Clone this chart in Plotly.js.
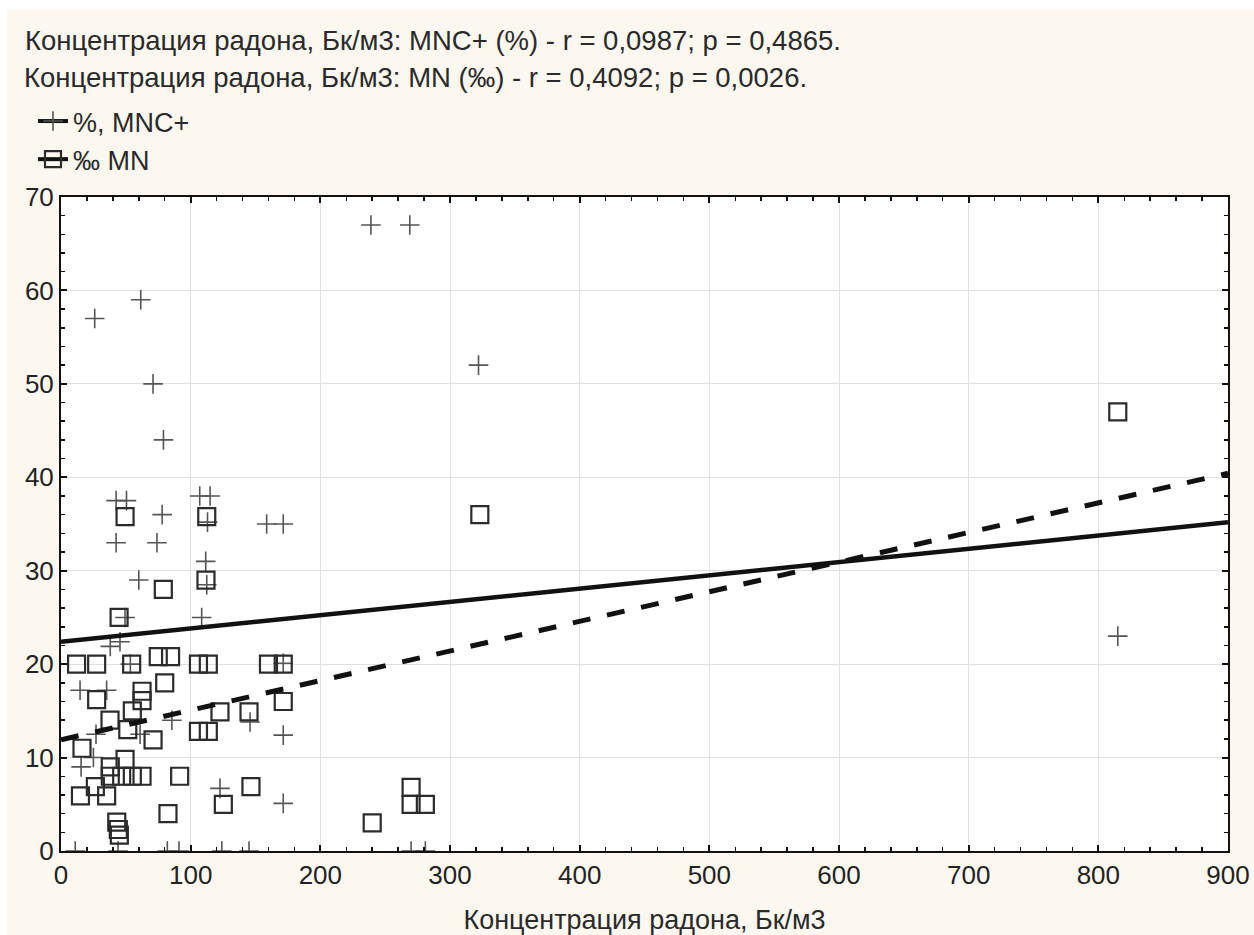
<!DOCTYPE html>
<html>
<head>
<meta charset="utf-8">
<script src="https://cdn.plot.ly/plotly-3.0.1.min.js"></script>
<style>
  html, body { margin: 0; padding: 0; background: #ffffff; }
  #chart { position: absolute; left: 7px; top: 10px; width: 1247px; height: 925px; }
</style>
</head>
<body>
<div id="chart"></div>
<script>
// ---- Data ----
// Series 1: MNC+ (%) — crosses
const mncX = [26, 61.5, 71, 79, 239, 269, 322, 815,
  42.5, 50.5, 78, 42.5, 74, 60, 107, 115, 113, 158.6, 171.4,
  111.6, 112.4, 108.5, 49.4, 38, 45.5, 53.5, 14.7, 35.2, 171.4,
  145.8, 171.4, 85.5, 122.6, 171.4, 27, 61, 15.5, 25,
  11, 44, 82, 91, 124, 145, 270, 281];
const mncY = [57, 59, 50, 44, 67, 67, 52, 23,
  37.5, 37.5, 36, 33, 33, 29, 38, 38, 35.2, 35, 35,
  31, 28.5, 25, 25, 21.9, 22.4, 20, 17.2, 17.2, 20.1,
  13.8, 12.4, 14, 6.7, 5.1, 12.5, 12.5, 9, 10,
  0, 0, 0, 0, 0, 0, 0, 0];

// Series 2: MN (‰) — squares
const mnX = [815, 323, 49.4, 112.4, 78.9, 111.8, 44.8, 12, 27.5, 54.5,
  75, 84.5, 106, 113.6, 160, 171.4, 80, 27.5, 62.5, 62.5,
  55, 37.8, 122.6, 145, 171.4, 106, 113.6, 16.2, 51.5, 71,
  49.4, 38, 38, 46.8, 55, 62.5, 91.5, 26.5, 15, 35.2,
  82.5, 43, 44.2, 45, 125.2, 146.5, 240, 270, 270, 281];
const mnY = [47, 36, 35.8, 35.8, 28, 29, 25, 20, 20, 20,
  20.8, 20.8, 20, 20, 20, 20, 18, 16.2, 17.1, 16.1,
  15, 14, 14.9, 14.9, 16, 12.8, 12.8, 11, 13, 11.9,
  9.8, 9, 8, 8, 8, 8, 8, 6.9, 5.9, 5.9,
  4, 3.1, 2.3, 1.7, 5, 6.9, 3, 6.8, 5, 5];

// Linear fits: [MNC+, MN]
const fitIntercept = [22.4, 11.9];
const fitSlope = [0.0142, 0.0317];

const seriesNames = ["%, MNC+", "‰ MN"];
const titleLines = [
  "Концентрация радона, Бк/м3: MNC+ (%) - r = 0,0987; p = 0,4865.",
  "Концентрация радона, Бк/м3: MN (‰) - r = 0,4092; p = 0,0026."
];
const xTitle = "Концентрация радона, Бк/м3";
const xRange = [0, 900];
const yRange = [0, 70];

// ---- Build traces ----
const font = "Liberation Sans, Arial, sans-serif";
const textColor = "#2a2a2a";
const crossStyle = { symbol: "cross-thin-open", size: 14, color: "#555", line: { color: "#555", width: 1.6 } };
const squareStyle = { symbol: "square-open", size: 17, color: "#2b2b2b", line: { color: "#2b2b2b", width: 2.2 } };
const solidLine = { color: "#111", width: 4.5 };
const dashLine = { color: "#111", width: 5, dash: "18px,17px" };

function fitLine(i) {
  return xRange.map(x => fitIntercept[i] + fitSlope[i] * x);
}

const traces = [
  { type: "scatter", mode: "markers", x: mncX, y: mncY, marker: crossStyle,
    name: seriesNames[0], showlegend: false, hoverinfo: "x+y" },
  { type: "scatter", mode: "markers", x: mnX, y: mnY, marker: squareStyle,
    name: seriesNames[1], showlegend: false, hoverinfo: "x+y" },
  { type: "scatter", mode: "lines", x: xRange, y: fitLine(0), line: solidLine,
    name: seriesNames[0] + " fit", showlegend: false, hoverinfo: "skip" },
  { type: "scatter", mode: "lines", x: xRange, y: fitLine(1), line: dashLine,
    name: seriesNames[1] + " fit", showlegend: false, hoverinfo: "skip" },
  // legend entries (line + marker)
  { type: "scatter", mode: "lines+markers", x: [null], y: [null], name: seriesNames[0],
    legendgroup: "a", marker: crossStyle, line: { color: "#111", width: 4 } },
  { type: "scatter", mode: "lines+markers", x: [null], y: [null], name: seriesNames[1],
    legendgroup: "b", marker: squareStyle, line: { color: "#111", width: 4 } }
];

const axisCommon = {
  showline: true, linecolor: "#111", linewidth: 2, mirror: "ticks",
  ticks: "inside", ticklen: 6, tickwidth: 2, tickcolor: "#111",
  showgrid: true, gridcolor: "#dde1e7", gridwidth: 1,
  zeroline: false, fixedrange: true,
  tickfont: { family: font, size: 26, color: "#222" }
};

const layout = {
  width: 1247, height: 925,
  paper_bgcolor: "#fcf8f0", plot_bgcolor: "#ffffff",
  margin: { l: 54, r: 26, t: 187, b: 84 },
  font: { family: font, size: 27, color: textColor },
  title: { text: titleLines[0], xref: "container", yref: "container",
           x: 0.0144, xanchor: "left", y: 1 - 30 / 925, yanchor: "middle",
           font: { family: font, size: 27.5, color: textColor } },
  annotations: [
    { text: titleLines[1], xref: "paper", yref: "paper", x: -0.0335, y: (851 - 77) / 654,
      xanchor: "left", yanchor: "middle", showarrow: false,
      font: { family: font, size: 27.5, color: textColor } }
  ],
  showlegend: true,
  legend: { x: -0.024, y: (851 - 97) / 654, xanchor: "left", yanchor: "top",
            bgcolor: "rgba(0,0,0,0)", tracegroupgap: 0, itemwidth: 30,
            font: { family: font, size: 27, color: textColor } },
  xaxis: Object.assign({}, axisCommon, {
    range: xRange, dtick: 100, tick0: 0,
    minor: { dtick: 20, ticks: "inside", ticklen: 4, tickwidth: 1.5, tickcolor: "#111", showgrid: false },
    title: { text: xTitle, standoff: 22, font: { family: font, size: 27, color: textColor } }
  }),
  yaxis: Object.assign({}, axisCommon, {
    range: yRange, dtick: 10, tick0: 0,
    minor: { dtick: 2, ticks: "inside", ticklen: 4, tickwidth: 1.5, tickcolor: "#111", showgrid: false }
  })
};

Plotly.newPlot("chart", traces, layout, { displayModeBar: false, staticPlot: true });
</script>
</body>
</html>
